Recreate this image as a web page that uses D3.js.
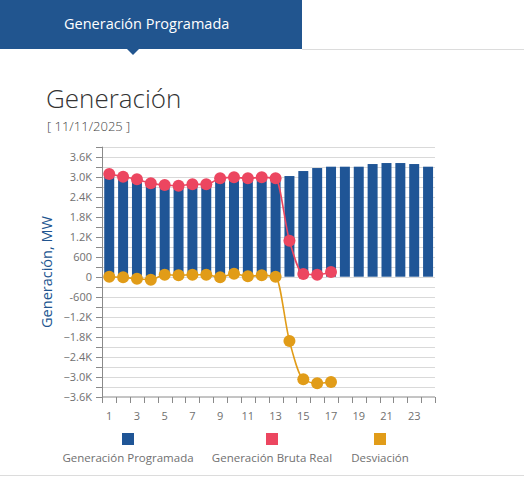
<!DOCTYPE html>
<html>
<head>
<meta charset="utf-8">
<script src="https://cdn.jsdelivr.net/npm/d3@7"></script>
<style>
  body { margin: 0; background: #fff; }
  svg { display: block; font-family: "Open Sans", sans-serif; }
</style>
</head>
<body>
<svg id="chart" width="524" height="501"></svg>
<script>
// Hours of the day
var hours = d3.range(1, 25);

// Generación Programada (MW)
var programada = [3080, 3020, 2980, 2890, 2690, 2690, 2710, 2710, 2970, 2890, 2940, 2940,
                  2950, 3020, 3170, 3260, 3300, 3300, 3300, 3380, 3410, 3410, 3380, 3300];
// Generación Bruta Real (MW) - only reported up to hour 17
var brutaReal = [3080, 3000, 2920, 2800, 2750, 2730, 2770, 2770, 2950, 2980, 2950, 2980,
                 2950, 1080, 80, 60, 140];
// Desviación (MW)
var desviacion = [0, -20, -60, -90, 60, 40, 60, 60, -20, 90, 10, 40,
                  0, -1930, -3080, -3200, -3160];

var yTicks = d3.range(-3600, 3901, 300);
var yLabels = d3.range(-3600, 3601, 600);

var colors = { prog: "#1f5596", real: "#ec4660", desv: "#e19c18" };

var svg = d3.select("#chart");

// Header tab
svg.append("rect").attr("x", 0).attr("y", 0).attr("width", 302).attr("height", 49)
  .attr("fill", "#21558f");
svg.append("path").attr("d", "M127,49 L133,55 L139,49 Z").attr("fill", "#21558f");
svg.append("line").attr("x1", 302).attr("x2", 524).attr("y1", 49.5).attr("y2", 49.5)
  .attr("stroke", "#dcdcdc");
svg.append("text").attr("x", 64).attr("y", 29)
  .attr("fill", "#fff").attr("font-size", 14.5)
  .text("Generación Programada");

// Titles
svg.append("text").attr("x", 46).attr("y", 108)
  .attr("fill", "#333").attr("font-size", 26).attr("font-weight", 300)
  .text("Generación");
svg.append("text").attr("x", 47).attr("y", 131)
  .attr("fill", "#444").attr("font-size", 13).attr("font-weight", 300)
  .text("[ 11/11/2025 ]");

// Scales
var x = d3.scaleBand().domain(hours).range([102.3, 435]).paddingInner(0.28).paddingOuter(0.14);
var xb = d3.scaleLinear().domain([0, 24]).range([102.3, 435]);
var y = d3.scaleLinear().domain([-3600, 3900]).range([396.7, 146.7]);

var fmt = v => Math.abs(v) >= 1000 ? d3.format(".1f")(v / 1000) + "K" : String(v);

// Grid
svg.append("g").selectAll("line").data(yTicks.filter(d => d > -3600)).enter().append("line")
  .attr("x1", 102.3).attr("x2", 435)
  .attr("y1", d => Math.round(y(d)) + 0.5).attr("y2", d => Math.round(y(d)) + 0.5)
  .attr("stroke", "#d9d9d9");

// Y axis
var ya = svg.append("g").attr("stroke", "#8a8a8a");
ya.append("line").attr("x1", 102.5).attr("x2", 102.5).attr("y1", y(3900)).attr("y2", y(-3600) + 6);
ya.selectAll(".t").data(yTicks).enter().append("line")
  .attr("x1", 96).attr("x2", 102.5)
  .attr("y1", d => Math.round(y(d)) + 0.5).attr("y2", d => Math.round(y(d)) + 0.5);
svg.append("g").selectAll("text").data(yLabels).enter().append("text")
  .attr("x", 92).attr("y", d => y(d)).attr("dy", "0.35em")
  .attr("text-anchor", "end").attr("fill", "#707070").attr("font-size", 11)
  .text(fmt);

// X axis
var xa = svg.append("g").attr("stroke", "#8a8a8a");
xa.append("line").attr("x1", 102.3).attr("x2", 435).attr("y1", 397).attr("y2", 397);
xa.selectAll(".t").data(d3.range(0, 25)).enter().append("line")
  .attr("x1", d => Math.round(xb(d)) + 0.5).attr("x2", d => Math.round(xb(d)) + 0.5)
  .attr("y1", 397).attr("y2", 403);
svg.append("g").selectAll("text").data(hours.filter(d => d % 2 === 1)).enter().append("text")
  .attr("x", d => x(d) + x.bandwidth() / 2).attr("y", 420)
  .attr("text-anchor", "middle").attr("fill", "#707070").attr("font-size", 11)
  .text(d => d);

// Y axis title
svg.append("text")
  .attr("transform", "translate(52,272) rotate(-90)")
  .attr("text-anchor", "middle").attr("fill", "#21558f").attr("font-size", 14.5)
  .text("Generación, MW");

// Bars
svg.append("g").selectAll("rect").data(programada).enter().append("rect")
  .attr("x", (d, i) => x(hours[i])).attr("width", x.bandwidth())
  .attr("y", d => y(d)).attr("height", d => y(0) - y(d))
  .attr("fill", colors.prog);

function series(values, color) {
  var line = d3.line()
    .x((d, i) => x(hours[i]) + x.bandwidth() / 2)
    .y(d => y(d))
    .curve(d3.curveMonotoneX);
  var g = svg.append("g");
  g.append("path").attr("d", line(values)).attr("fill", "none")
    .attr("stroke", color).attr("stroke-width", 1.6);
  g.selectAll("circle").data(values).enter().append("circle")
    .attr("cx", (d, i) => x(hours[i]) + x.bandwidth() / 2)
    .attr("cy", d => y(d)).attr("r", 6)
    .attr("fill", color);
}
series(desviacion, colors.desv);
series(brutaReal, colors.real);

// Legend
var legend = [
  { name: "Generación Programada", color: colors.prog, cx: 128 },
  { name: "Generación Bruta Real", color: colors.real, cx: 272 },
  { name: "Desviación", color: colors.desv, cx: 380 }
];
var lg = svg.append("g").selectAll("g").data(legend).enter().append("g");
lg.append("rect").attr("x", d => d.cx - 6).attr("y", 433).attr("width", 12).attr("height", 12)
  .attr("fill", d => d.color);
lg.append("text").attr("x", d => d.cx).attr("y", 462)
  .attr("text-anchor", "middle").attr("fill", "#707070").attr("font-size", 11.5)
  .text(d => d.name);

// Bottom separator
svg.append("line").attr("x1", 0).attr("x2", 524).attr("y1", 475.5).attr("y2", 475.5)
  .attr("stroke", "#dcdcdc");
</script>
</body>
</html>
